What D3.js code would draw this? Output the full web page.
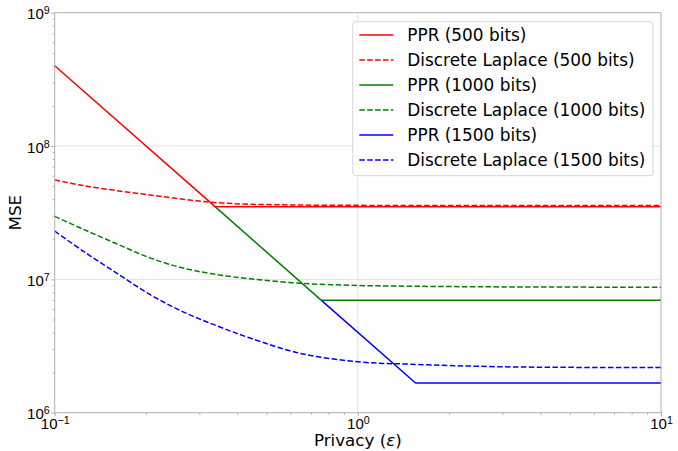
<!DOCTYPE html>
<html>
<head>
<meta charset="utf-8">
<script src="https://cdn.jsdelivr.net/npm/d3@7"></script>
<style>
  body { margin: 0; background: #fff; }
  svg { display: block; font-family: "DejaVu Sans", sans-serif; }
</style>
</head>
<body>
<div class="canva"></div>
<script>
const dlEps = [0.1, 0.124, 0.16, 0.206, 0.265, 0.342, 0.441, 0.644, 1, 1.5, 3, 10];
const dl500 = [5.57e7, 5.05e7, 4.63e7, 4.30e7, 3.99e7, 3.76e7, 3.66e7, 3.61e7, 3.59e7, 3.585e7, 3.58e7, 3.58e7];
const dl1000 = [2.97e7, 2.38e7, 1.85e7, 1.45e7, 1.216e7, 1.087e7, 1.01e7, 9.35e6, 9.0e6, 8.88e6, 8.78e6, 8.73e6];
const dl1500 = [2.30e7, 1.63e7, 1.115e7, 7.71e6, 5.71e6, 4.49e6, 3.63e6, 2.79e6, 2.41e6, 2.31e6, 2.21e6, 2.18e6];

// PPR curves (piecewise, straight on log-log)
const pprEps500 = [0.1, 0.338, 10];
const ppr500 = [4e8, 3.51e7, 3.51e7];
const pprEps1000 = [0.338, 0.758, 10];
const ppr1000 = [3.51e7, 6.96e6, 6.96e6];
const pprEps1500 = [0.758, 1.55, 10];
const ppr1500 = [6.96e6, 1.67e6, 1.67e6];

const xTicks = [0.1, 1, 10];
const xTickExp = ["\u22121", "0", "1"];
const yTicks = [1e6, 1e7, 1e8, 1e9];
const yTickExp = ["6", "7", "8", "9"];

const series = [
  { name: "PPR (500 bits)", xs: pprEps500, ys: ppr500, color: "#ff0000", dash: null },
  { name: "Discrete Laplace (500 bits)", xs: dlEps, ys: dl500, color: "#ff0000", dash: "5.5,2.4" },
  { name: "PPR (1000 bits)", xs: pprEps1000, ys: ppr1000, color: "#008000", dash: null },
  { name: "Discrete Laplace (1000 bits)", xs: dlEps, ys: dl1000, color: "#008000", dash: "5.5,2.4" },
  { name: "PPR (1500 bits)", xs: pprEps1500, ys: ppr1500, color: "#0000ff", dash: null },
  { name: "Discrete Laplace (1500 bits)", xs: dlEps, ys: dl1500, color: "#0000ff", dash: "5.5,2.4" }
];

var W = 678, H = 451;
var margin = { top: 12.7, right: 17, bottom: 38.3, left: 54.7 };
var width = W - margin.left - margin.right,
    height = H - margin.top - margin.bottom;

const spineColor = "#b0b0b0";
const gridColor = "#e3e3e3";

const x = d3.scaleLog([0.1, 10], [margin.left, margin.left + width]);
const y = d3.scaleLog([1e6, 1e9], [margin.top + height, margin.top]);

const svg = d3.select(".canva").append("svg")
  .attr("width", W)
  .attr("height", H)
  .attr("viewBox", [0, 0, W, H]);

svg.append("defs").append("clipPath").attr("id", "clip")
  .append("rect")
  .attr("x", margin.left).attr("y", margin.top)
  .attr("width", width).attr("height", height);

// grid (major only)
const grid = svg.append("g");
grid.selectAll(".gx").data(xTicks.slice(1, -1)).join("line")
  .attr("x1", d => x(d)).attr("x2", d => x(d))
  .attr("y1", margin.top).attr("y2", margin.top + height)
  .attr("stroke", gridColor).attr("stroke-width", 1);
grid.selectAll(".gy").data(yTicks.slice(1, -1)).join("line")
  .attr("y1", d => y(d)).attr("y2", d => y(d))
  .attr("x1", margin.left).attr("x2", margin.left + width)
  .attr("stroke", gridColor).attr("stroke-width", 1);

// lines: PPR are straight segments, laplace curves are smoothed
const straight = d3.line();
const smooth = d3.line().curve(d3.curveCatmullRom.alpha(0.5));
const lines = svg.append("g").attr("clip-path", "url(#clip)");
series.forEach(s => {
  const pts = s.xs.map((e, i) => [x(e), y(s.ys[i])]);
  lines.append("path")
    .attr("d", s.dash ? smooth(pts) : straight(pts))
    .attr("fill", "none")
    .attr("stroke", s.color)
    .attr("stroke-width", 1.5)
    .attr("stroke-linejoin", "round")
    .attr("stroke-dasharray", s.dash);
});

// minor tick values
const xMinor = [], yMinor = [];
[0.1, 1].forEach(b => { for (let k = 2; k <= 9; k++) xMinor.push(b * k); });
[1e6, 1e7, 1e8].forEach(b => { for (let k = 2; k <= 9; k++) yMinor.push(b * k); });

function styleAxis(g) {
  g.select(".domain").remove();
  g.selectAll(".tick line").attr("stroke", spineColor);
}

svg.append("g")
  .attr("transform", `translate(0, ${margin.top + height})`)
  .call(d3.axisBottom(x).tickValues(xMinor).tickSize(2).tickFormat(""))
  .call(styleAxis);
svg.append("g")
  .attr("transform", `translate(${margin.left}, 0)`)
  .call(d3.axisLeft(y).tickValues(yMinor).tickSize(2).tickFormat(""))
  .call(styleAxis);

const gx = svg.append("g")
  .attr("transform", `translate(0, ${margin.top + height})`)
  .call(d3.axisBottom(x).tickValues(xTicks).tickSize(3.5).tickFormat(""))
  .call(styleAxis);
gx.selectAll(".tick").append("text")
  .attr("y", 16)
  .attr("fill", "#000")
  .attr("font-size", 15)
  .attr("text-anchor", "middle")
  .each(function(d, i) {
    const t = d3.select(this);
    t.append("tspan").text("10");
    t.append("tspan").attr("dy", "-0.45em").attr("font-size", "71%").text(xTickExp[i]);
  });

const gy = svg.append("g")
  .attr("transform", `translate(${margin.left}, 0)`)
  .call(d3.axisLeft(y).tickValues(yTicks).tickSize(3.5).tickFormat(""))
  .call(styleAxis);
gy.selectAll(".tick").append("text")
  .attr("x", -5)
  .attr("y", 6)
  .attr("fill", "#000")
  .attr("font-size", 15)
  .attr("text-anchor", "end")
  .each(function(d, i) {
    const t = d3.select(this);
    t.append("tspan").text("10");
    t.append("tspan").attr("dy", "-0.45em").attr("font-size", "71%").text(yTickExp[i]);
  });

// spines
svg.append("rect")
  .attr("x", margin.left).attr("y", margin.top)
  .attr("width", width).attr("height", height)
  .attr("fill", "none")
  .attr("stroke", spineColor)
  .attr("stroke-width", 1);

// axis labels
const xl = svg.append("text")
  .attr("x", margin.left + width / 2)
  .attr("y", 445.5)
  .attr("text-anchor", "middle")
  .attr("font-size", 16.7)
  .attr("fill", "#000");
xl.append("tspan").text("Privacy (");
xl.append("tspan").attr("font-style", "italic").text("\u03b5");
xl.append("tspan").text(")");

svg.append("text")
  .attr("transform", `translate(21, ${margin.top + height / 2}) rotate(-90)`)
  .attr("text-anchor", "middle")
  .attr("font-size", 16.7)
  .attr("fill", "#000")
  .text("MSE");

// legend
const leg = svg.append("g");
leg.append("rect")
  .attr("x", 352.7).attr("y", 21.7)
  .attr("width", 300.3).attr("height", 154)
  .attr("rx", 3)
  .attr("fill", "#fff").attr("fill-opacity", 0.8)
  .attr("stroke", "#d6d6d6").attr("stroke-width", 1);
series.forEach((s, i) => {
  const cy = 35 + i * 25;
  leg.append("line")
    .attr("x1", 359.3).attr("x2", 393.3)
    .attr("y1", cy).attr("y2", cy)
    .attr("stroke", s.color).attr("stroke-width", 1.5)
    .attr("stroke-dasharray", s.dash);
  leg.append("text")
    .attr("x", 407.3).attr("y", cy + 6)
    .attr("font-size", 16.9)
    .attr("fill", "#000")
    .text(s.name);
});
</script>
</body>
</html>
